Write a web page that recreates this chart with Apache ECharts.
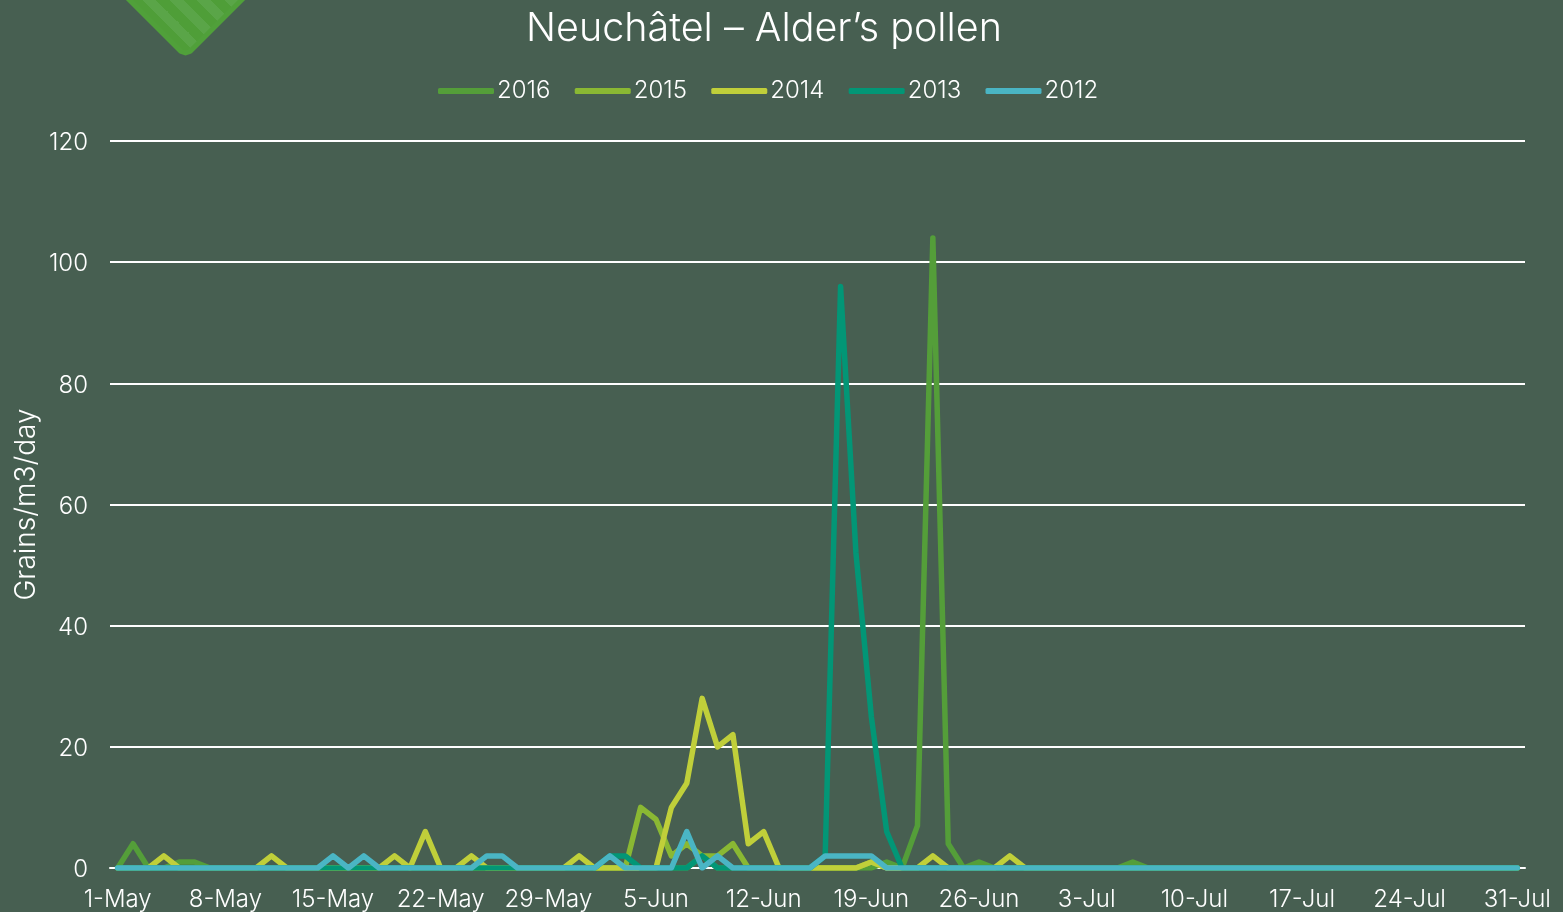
<!DOCTYPE html>
<html><head><meta charset="utf-8">
<style>html,body{margin:0;padding:0;background:#475f51}#c{width:1563px;height:912px}</style>
<script src="https://cdn.jsdelivr.net/npm/echarts@6/dist/echarts.min.js"></script>
</head><body><div id="c"></div>
<script>
const titleText = "Neuchâtel – Alder’s pollen";
const yAxisName = "Grains/m3/day";
const categories = [
"1-May","2-May","3-May","4-May","5-May","6-May","7-May","8-May","9-May","10-May","11-May","12-May","13-May","14-May","15-May","16-May","17-May","18-May","19-May","20-May","21-May","22-May","23-May","24-May","25-May","26-May","27-May","28-May","29-May","30-May","31-May",
"1-Jun","2-Jun","3-Jun","4-Jun","5-Jun","6-Jun","7-Jun","8-Jun","9-Jun","10-Jun","11-Jun","12-Jun","13-Jun","14-Jun","15-Jun","16-Jun","17-Jun","18-Jun","19-Jun","20-Jun","21-Jun","22-Jun","23-Jun","24-Jun","25-Jun","26-Jun","27-Jun","28-Jun","29-Jun","30-Jun",
"1-Jul","2-Jul","3-Jul","4-Jul","5-Jul","6-Jul","7-Jul","8-Jul","9-Jul","10-Jul","11-Jul","12-Jul","13-Jul","14-Jul","15-Jul","16-Jul","17-Jul","18-Jul","19-Jul","20-Jul","21-Jul","22-Jul","23-Jul","24-Jul","25-Jul","26-Jul","27-Jul","28-Jul","29-Jul","30-Jul","31-Jul"];
const v2016 = [
0,4,0,0,1,1,0,0,0,0, 0,0,0,0,0,0,0,0,0,0, 0,0,0,0,0,0,0,0,0,0, 0,
0,0,0,0,0,0,0,2,0,0, 0,0,0,0,0,0,0,0,0,1, 0,7,104,4,0,1,0,0,0,0,
0,0,0,0,0,1,0,0,0,0, 0,0,0,0,0,0,0,0,0,0, 0,0,0,0,0,0,0,0,0,0, 0];
const v2015 = [
0,0,0,0,0,0,0,0,0,0, 0,0,0,0,0,0,0,0,0,0, 0,0,0,0,0,0,0,0,0,0, 0,
0,0,0,10,8,2,4,2,2,4, 0,0,0,0,0,0,0,0,1,0, 0,0,0,0,0,0,0,0,0,0,
0,0,0,0,0,0,0,0,0,0, 0,0,0,0,0,0,0,0,0,0, 0,0,0,0,0,0,0,0,0,0, 0];
const v2014 = [
0,0,0,2,0,0,0,0,0,0, 2,0,0,0,0,0,0,0,2,0, 6,0,0,2,0,0,0,0,0,0, 2,
0,0,0,0,0,10,14,28,20,22, 4,6,0,0,0,0,0,0,1,0, 0,0,2,0,0,0,0,2,0,0,
0,0,0,0,0,0,0,0,0,0, 0,0,0,0,0,0,0,0,0,0, 0,0,0,0,0,0,0,0,0,0, 0];
const v2013 = [
0,0,0,0,0,0,0,0,0,0, 0,0,0,0,0,0,0,0,0,0, 0,0,0,0,0,0,0,0,0,0, 0,
0,2,2,0,0,0,0,2,0,0, 0,0,0,0,0,2,96,52,25,6, 0,0,0,0,0,0,0,0,0,0,
0,0,0,0,0,0,0,0,0,0, 0,0,0,0,0,0,0,0,0,0, 0,0,0,0,0,0,0,0,0,0, 0];
const v2012 = [
0,0,0,0,0,0,0,0,0,0, 0,0,0,0,2,0,2,0,0,0, 0,0,0,0,2,2,0,0,0,0, 0,
0,2,0,0,0,0,6,0,2,0, 0,0,0,0,0,2,2,2,2,0, 0,0,0,0,0,0,0,0,0,0,
0,0,0,0,0,0,0,0,0,0, 0,0,0,0,0,0,0,0,0,0, 0,0,0,0,0,0,0,0,0,0, 0];
const seriesNames = ["2016","2015","2014","2013","2012"];
const seriesValues = [v2016,v2015,v2014,v2013,v2012];
const colors = ["#549e39","#8ab833","#c0cf3a","#029676","#4ab5c4"];
const FONT = "Inter";

const stops = [];
const bands = 12;
for (let i=0;i<bands;i++){
  const c = i%2 ? "#5aa548" : "#4f9e38";
  stops.push({offset:i/bands,color:c},{offset:(i+1)/bands,color:c});
}
const chart = echarts.init(document.getElementById('c'),null,{renderer:'canvas'});
chart.setOption({
  animation:false,
  backgroundColor:"#475f51",
  title:{text:titleText,left:759,textAlign:'center',top:4,textStyle:{color:'#fff',fontFamily:FONT,fontWeight:300,fontSize:39.5}},
  legend:{data:seriesNames,left:438,top:79,padding:0,icon:'roundRect',itemWidth:56,itemHeight:6,itemGap:24.3,
    textStyle:{color:'#fff',fontFamily:FONT,fontSize:24,fontWeight:300,width:51,padding:[0,0,0,-2]}},
  grid:{left:110,right:38,top:141,bottom:44,containLabel:false},
  xAxis:{type:'category',data:categories,boundaryGap:true,
    axisLine:{show:true,lineStyle:{color:'#fff',width:2}},axisTick:{show:false},
    axisLabel:{interval:6,color:'#fff',fontFamily:FONT,fontSize:24,fontWeight:300,margin:20,hideOverlap:false}},
  yAxis:{type:'value',min:0,max:120,interval:20,name:yAxisName,nameLocation:'middle',nameGap:69,nameMoveOverlap:false,
    nameTextStyle:{color:'#fff',fontFamily:FONT,fontSize:28,fontWeight:300},
    axisLine:{show:false},axisTick:{show:false},
    axisLabel:{color:'#fff',margin:22,formatter:'{a|{value}}',
      rich:{a:{color:'#fff',fontFamily:FONT,fontSize:24,fontWeight:300,padding:[4,0,0,0]}}},
    splitLine:{lineStyle:{color:'#fff',width:2}}},
  series:seriesNames.map((n,i)=>({name:n,type:'line',data:seriesValues[i],symbol:'none',
    lineStyle:{color:colors[i],width:5.5,cap:'round',join:'round'},itemStyle:{color:colors[i]},emphasis:{disabled:true}})),
  graphic:[{type:'polygon',silent:true,z:10,
    shape:{points:[[123.5,-6],[247.5,-6],[190,51.5],[185.5,53],[181,51.5]]},
    style:{lineJoin:'round',lineWidth:5,stroke:'#50a03a',
      fill:new echarts.graphic.LinearGradient(126,52,208,-30,stops,true)}}]
});
</script></body></html>
